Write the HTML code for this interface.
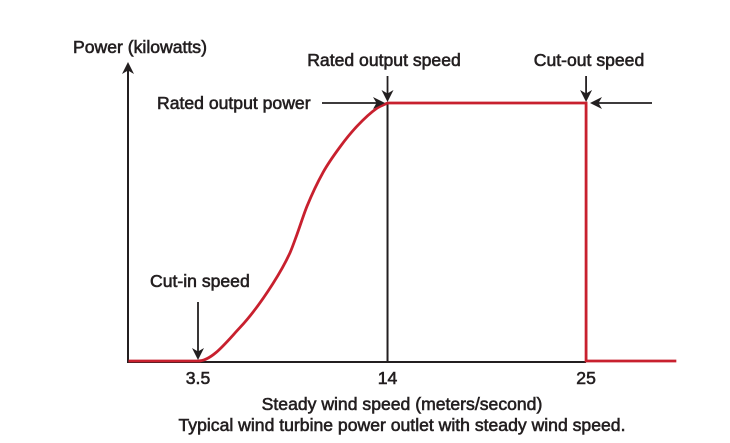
<!DOCTYPE html>
<html><head><meta charset="utf-8"><style>
html,body{margin:0;padding:0;background:#fff;}
svg{display:block;font-family:"Liberation Sans",Arial,sans-serif;}
text{fill:#231f20;font-size:17.6px;stroke:#231f20;stroke-width:0.6px;}
</style></head><body>
<svg id="chart" width="730" height="443" viewBox="0 0 730 443" xmlns="http://www.w3.org/2000/svg">
<defs><marker id="ah" markerWidth="12" markerHeight="12" refX="10" refY="6" orient="auto" markerUnits="userSpaceOnUse"><path d="M0,0 L12,6 L0,12 L3.5,6 Z" fill="#231f20"/></marker></defs>
<g id="axes"></g>
<g id="series"></g>
<g id="labels"></g>
</svg>
<script>
const speeds=[-0.35,3.5,5.83,7.65,8.6,8.98,9.54,10.42,11.37,12.31,13.42,14,25,25,30];
const power=[0,0,0.13,0.30,0.42,0.49,0.60,0.73,0.83,0.91,0.98,1,1,0,0];
const tickValues=[3.5,14,25];
const tickLabels=["3.5","14","25"];
const NS="http://www.w3.org/2000/svg";
function sx(v){return 198+(v-3.5)*18.05;}
function sy(p){return 361-p*258;}
function mk(tag,attrs,parent){const e=document.createElementNS(NS,tag);for(const k in attrs)e.setAttribute(k,attrs[k]);parent.appendChild(e);return e;}
const axes=document.getElementById('axes'),ser=document.getElementById('series'),lab=document.getElementById('labels');
let ya=mk('line',{x1:128,y1:362,x2:128,y2:64,stroke:'#231f20','stroke-width':2,'marker-end':'url(#ah)'},axes);


let xa=mk('line',{x1:127,y1:362,x2:sx(25),y2:362,stroke:'#231f20','stroke-width':2},axes);


let vl=mk('line',{x1:sx(14),y1:103,x2:sx(14),y2:361,stroke:'#231f20','stroke-width':2},axes);


const pts=speeds.map((s,i)=>[sx(s),sy(power[i])]);
const a=1,b=11;
const n=b-a+1,X=[],Y=[];
for(let i=a;i<=b;i++){X.push(pts[i][0]);Y.push(pts[i][1]);}
const dl=[],m=[];
for(let i=0;i<n-1;i++)dl.push((Y[i+1]-Y[i])/(X[i+1]-X[i]));
m[0]=0;m[n-1]=dl[n-2];
for(let i=1;i<n-1;i++){m[i]=(dl[i-1]*dl[i]<=0)?0:(dl[i-1]+dl[i])/2;}
let d='M'+pts[0][0]+','+pts[0][1]+' L'+X[0]+','+Y[0];
for(let i=0;i<n-1;i++){
  const h=X[i+1]-X[i];
  d+=' C'+(X[i]+h/3)+','+(Y[i]+m[i]*h/3)+' '+(X[i+1]-h/3)+','+(Y[i+1]-m[i+1]*h/3)+' '+X[i+1]+','+Y[i+1];
}
for(let i=b+1;i<pts.length;i++)d+=' L'+pts[i][0]+','+pts[i][1];
let cp=mk('path',{d:d,fill:'none',stroke:'#c8202e','stroke-width':2.8,'stroke-linejoin':'miter'},ser);


tickValues.forEach((v,i)=>{
  let t=mk('text',{x:sx(v),y:384,'text-anchor':'middle'},lab);t.textContent=tickLabels[i];
  
  
});
function txt(s,x,y,anchor,name){let t=mk('text',{x:x,y:y,'text-anchor':anchor},lab);t.textContent=s;
  
  return t;}
function arrow(x1,y1,x2,y2,name){let ar=mk('line',{x1:x1,y1:y1,x2:x2,y2:y2,stroke:'#231f20','stroke-width':1.8,'marker-end':'url(#ah)'},lab);
  
  }
txt('Power (kilowatts)',73,53,'start','y-axis-title');
txt('Rated output speed',384,66,'middle','rated-output-speed-label');
arrow(sx(14),76,sx(14),100,'rated-speed-arrow');
txt('Cut-out speed',589,66,'middle','cut-out-speed-label');
arrow(sx(25),76,sx(25),100,'cut-out-arrow');
txt('Rated output power',157,109,'start','rated-output-power-label');
arrow(322,103,383,103,'rated-power-arrow');
arrow(652,103,592,103,'cut-out-side-arrow');
txt('Cut-in speed',150,287,'start','cut-in-speed-label');
arrow(sx(3.5),302,sx(3.5),358,'cut-in-arrow');
txt('Steady wind speed (meters/second)',402,410,'middle','x-axis-title');
txt('Typical wind turbine power outlet with steady wind speed.',402,431,'middle','caption');
</script>
</body></html>
